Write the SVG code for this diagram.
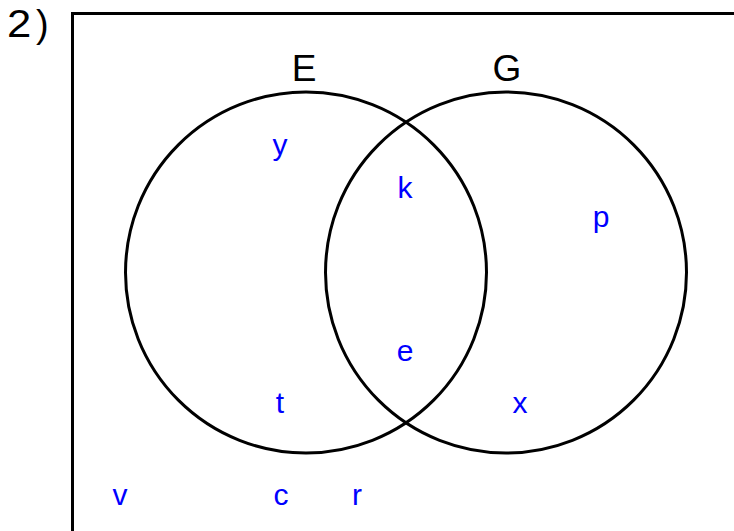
<svg xmlns="http://www.w3.org/2000/svg" width="734" height="531" viewBox="0 0 734 531">
<style>
.ln{fill:none;stroke:#000;stroke-width:3}
.lbl{font-family:"Liberation Sans",Arial,sans-serif;font-size:37px;fill:#000;text-anchor:middle}
.el{font-family:"Liberation Sans",Arial,sans-serif;font-size:30px;fill:#0000ff;text-anchor:middle}
.num{font-family:"Liberation Sans",Arial,sans-serif;font-size:38px;fill:#000}
</style>
<rect width="734" height="531" fill="#fff"/>
<text class="num" transform="translate(7,37) scale(1.15,1)" x="0" y="0">2</text>
<text class="num" x="36" y="37">)</text>
<g id="universe"><path class="ln" d="M72.5 540 V13.5 H740"/></g>
<g id="setE"><circle class="ln" cx="306" cy="272.5" r="180.5"/><text class="lbl" x="304" y="81">E</text></g>
<g id="setG"><circle class="ln" cx="506" cy="272.5" r="180.5"/><text class="lbl" x="507" y="81">G</text></g>
<g id="elements">
<text class="el" x="280" y="155">y</text>
<text class="el" x="405" y="198">k</text>
<text class="el" x="601" y="227">p</text>
<text class="el" x="405" y="361">e</text>
<text class="el" x="280" y="413">t</text>
<text class="el" x="520" y="413">x</text>
<text class="el" x="120" y="505">v</text>
<text class="el" x="281" y="505">c</text>
<text class="el" x="357" y="505">r</text>
</g>
<g id="connectors"/>
</svg>
